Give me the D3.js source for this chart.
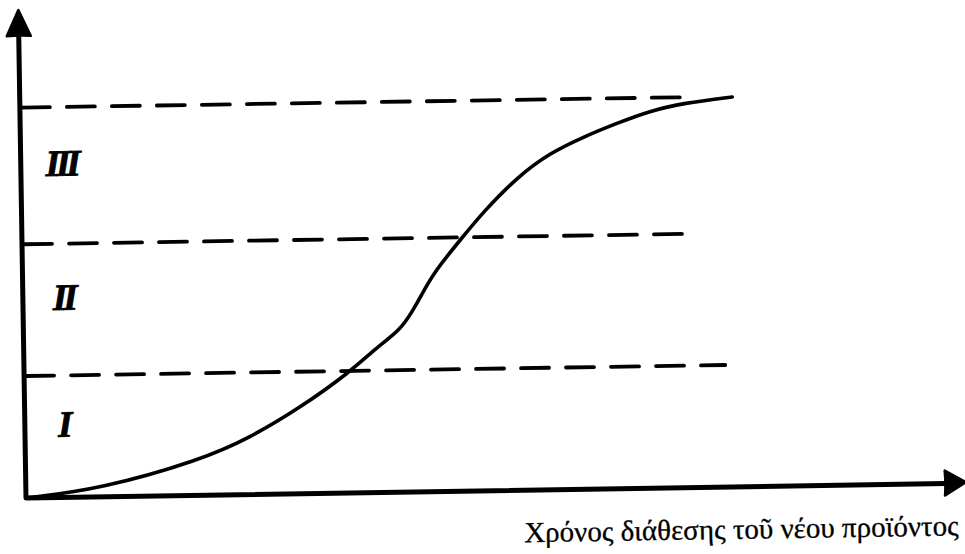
<!DOCTYPE html>
<html>
<head>
<meta charset="utf-8">
<script src="https://cdn.jsdelivr.net/npm/d3@7"></script>
<style>
  html, body { margin: 0; padding: 0; background: #fff; }
  svg { display: block; }
</style>
</head>
<body>
<div id="chart"></div>
<script>
// S-curve of adoption over time (values in % of axis length)
const timeValues = [0, 7.9, 18.6, 23.9, 29.3, 34.7, 37.6, 40.1, 41.5, 42.3, 43.7, 46.9, 49.1, 52.8, 56.3, 59.9, 63.5, 67.0, 70.6, 75.8];
const adoptionValues = [0, 1.6, 7.2, 11.6, 17.6, 24.8, 29.8, 33.2, 37.3, 39.9, 44.8, 52.1, 57.1, 64.2, 69.0, 72.2, 74.9, 77.3, 78.8, 79.9];

// stage boundaries (dashed lines) and how far each one runs along the time axis
const stageLevels = [25, 52, 80];
const stageLineEnds = [74.6, 71.1, 71.5];
const stageLabels = ['I', 'II', 'III'];

const xLabel = 'Χρόνος διάθεσης τοῦ νέου προϊόντος';

const width = 965;
const height = 554;
const origin = { x: 26, y: 498 };
const tilt = -0.9; // the original scan is slightly rotated

const svg = d3.select('#chart')
  .append('svg')
  .attr('width', width)
  .attr('height', height)
  .attr('xmlns', 'http://www.w3.org/2000/svg');

svg.append('rect').attr('width', width).attr('height', height).attr('fill', '#fff');

const g = svg.append('g')
  .attr('transform', `translate(${origin.x},${origin.y}) rotate(${tilt})`);

const x = d3.scaleLinear().domain([0, 100]).range([0, 940]);
const y = d3.scaleLinear().domain([0, 100]).range([0, -488]);

// dashed stage lines
g.append('g')
  .attr('class', 'stage-lines')
  .selectAll('line')
  .data(stageLevels)
  .join('line')
  .attr('x1', x(0) + 2)
  .attr('x2', (d, i) => x(stageLineEnds[i]))
  .attr('y1', d => y(d))
  .attr('y2', d => y(d))
  .attr('stroke', '#000')
  .attr('stroke-width', 3.8)
  .attr('stroke-linecap', 'round')
  .attr('stroke-dasharray', '28,17');

// stage labels, centred in each band
const bands = stageLevels.map((d, i) => [i === 0 ? 0 : stageLevels[i - 1], d]);
g.append('g')
  .attr('class', 'stage-labels')
  .selectAll('text')
  .data(stageLabels)
  .join('text')
  .attr('x', x(4.3))
  .attr('y', (d, i) => y((bands[i][0] + bands[i][1]) / 2 + 2.5))
  .attr('text-anchor', 'middle')
  .attr('dominant-baseline', 'central')
  .attr('font-family', '"Liberation Serif", "DejaVu Serif", serif')
  .attr('font-style', 'italic')
  .attr('font-weight', 700)
  .attr('font-size', 37)
  .attr('letter-spacing', d => d.length > 1 ? -4 : 0)
  .attr('stroke', '#000')
  .attr('stroke-width', 0.8)
  .text(d => d);

// the curve
const points = timeValues.map((t, i) => [t, adoptionValues[i]]);
const line = d3.line()
  .x(d => x(d[0]))
  .y(d => y(d[1]))
  .curve(d3.curveBasis);

g.append('path')
  .datum(points)
  .attr('d', line)
  .attr('fill', 'none')
  .attr('stroke', '#000')
  .attr('stroke-width', 3.6)
  .attr('stroke-linecap', 'round');

// axes with arrow heads
const xEnd = x(100);
const yEnd = y(100);
g.append('path')
  .attr('d', `M${x(0)},${yEnd + 24} L${x(0)},${y(0)} L${xEnd - 20},${y(0)}`)
  .attr('fill', 'none')
  .attr('stroke', '#000')
  .attr('stroke-width', 5)
  .attr('stroke-linejoin', 'round');

g.append('path')
  .attr('d', `M${x(0)},${yEnd} L${x(0) - 12},${yEnd + 26} Q${x(0)},${yEnd + 25} ${x(0) + 12},${yEnd + 26} Z`)
  .attr('fill', '#000')
  .attr('stroke', '#000')
  .attr('stroke-width', 2.5)
  .attr('stroke-linejoin', 'round');

g.append('path')
  .attr('d', `M${xEnd},${y(0) - 1} L${xEnd - 21},${y(0) - 13} Q${xEnd - 20},${y(0)} ${xEnd - 21},${y(0) + 12} Z`)
  .attr('fill', '#000')
  .attr('stroke', '#000')
  .attr('stroke-width', 2.5)
  .attr('stroke-linejoin', 'round');

// axis title
g.append('text')
  .attr('x', xEnd - 8)
  .attr('y', y(0) + 52)
  .attr('text-anchor', 'end')
  .attr('font-family', '"Liberation Serif", "DejaVu Serif", serif')
  .attr('font-size', 29)
  .attr('fill', '#000')
  .attr('stroke', '#000')
  .attr('stroke-width', 0.3)
  .text(xLabel);
</script>
</body>
</html>
